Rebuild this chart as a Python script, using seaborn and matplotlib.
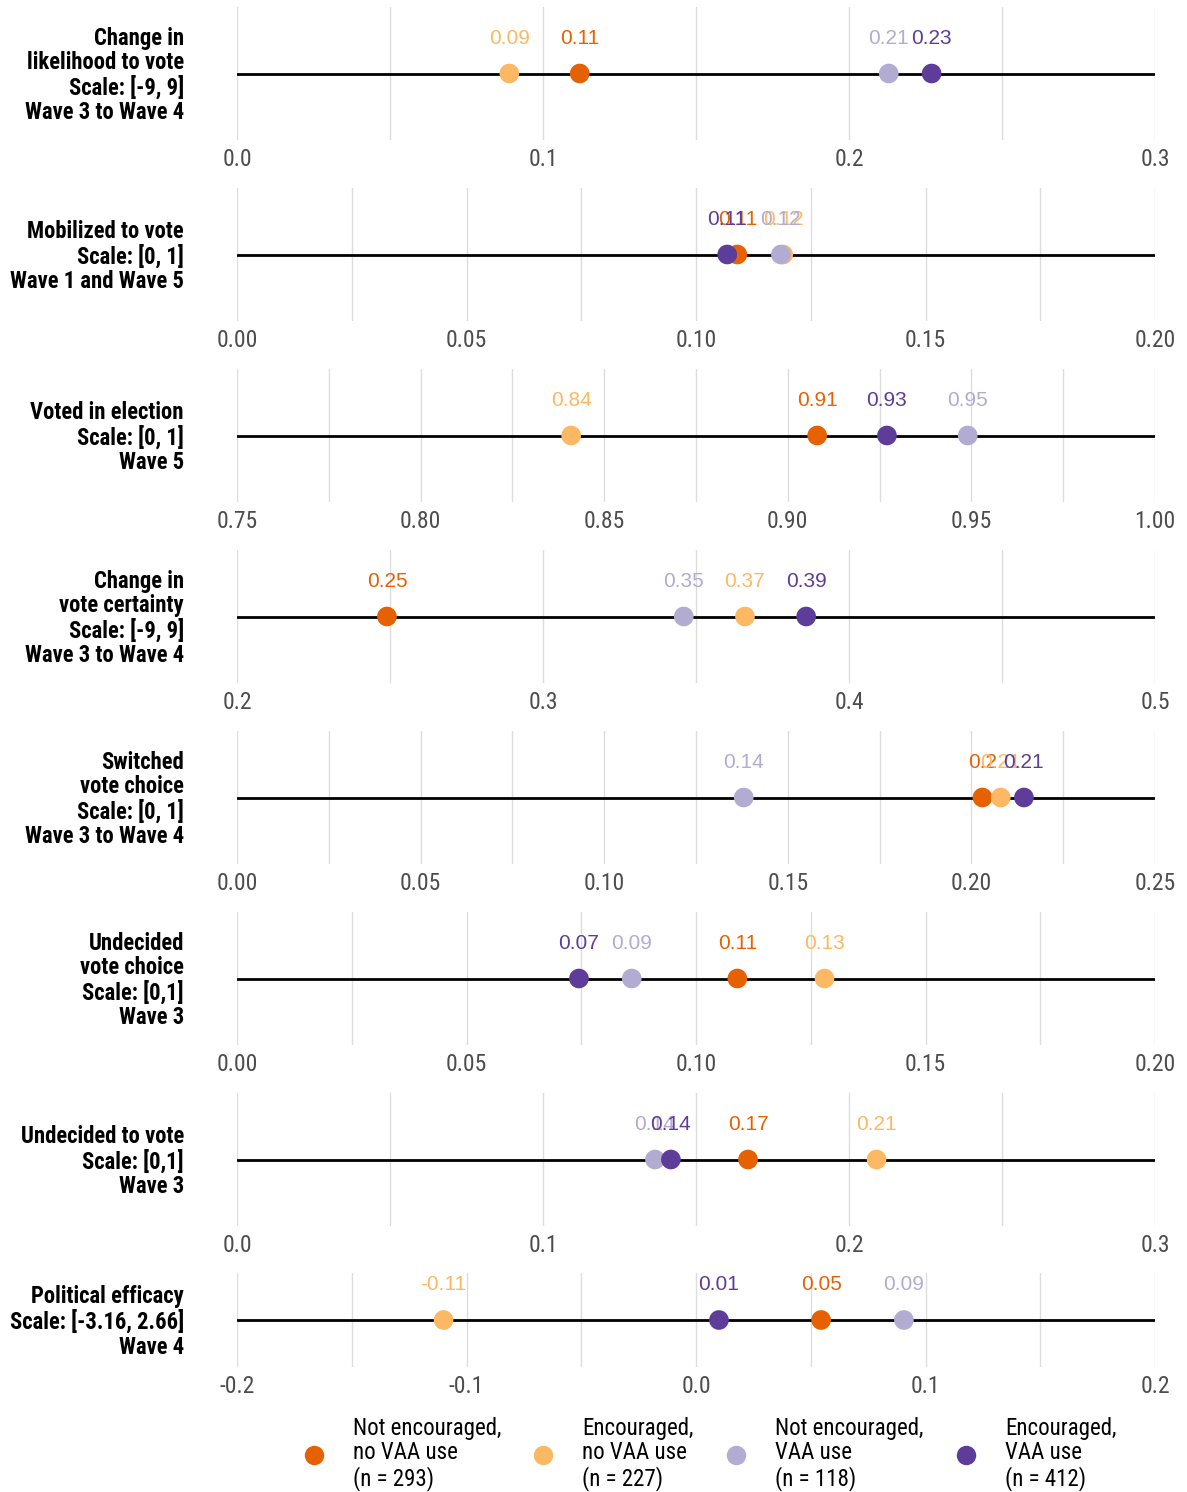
"""
Dot plot of group means for eight outcomes, one panel per outcome
"""

# %% import modules
import numpy as np
import pandas as pd
import matplotlib
matplotlib.use('Agg')
import matplotlib.pyplot as plt
from matplotlib import font_manager as fm
from matplotlib.lines import Line2D
import seaborn as sns

# %% data
groups = ['Not encouraged,\nno VAA use\n(n = 293)',
          'Encouraged,\nno VAA use\n(n = 227)',
          'Not encouraged,\nVAA use\n(n = 118)',
          'Encouraged,\nVAA use\n(n = 412)']
colors = ['#E66101', '#FDB863', '#B2ABD2', '#5E3C99']

outcomes = ['Change in\nlikelihood to vote\nScale: [-9, 9]\nWave 3 to Wave 4',
            'Mobilized to vote\nScale: [0, 1]\nWave 1 and Wave 5',
            'Voted in election\nScale: [0, 1]\nWave 5',
            'Change in\nvote certainty\nScale: [-9, 9]\nWave 3 to Wave 4',
            'Switched\nvote choice\nScale: [0, 1]\nWave 3 to Wave 4',
            'Undecided\nvote choice\nScale: [0,1]\nWave 3',
            'Undecided to vote\nScale: [0,1]\nWave 3',
            'Political efficacy\nScale: [-3.16, 2.66]\nWave 4']

# means per group, order as in `groups`
not_enc_no_vaa = [0.112, 0.109, 0.908, 0.249, 0.203, 0.109, 0.167, 0.0545]
enc_no_vaa = [0.089, 0.119, 0.841, 0.366, 0.208, 0.128, 0.209, -0.11]
not_enc_vaa = [0.213, 0.1185, 0.949, 0.346, 0.138, 0.086, 0.1366, 0.0906]
enc_vaa = [0.227, 0.1068, 0.927, 0.386, 0.2143, 0.0745, 0.1418, 0.01]

# axis limits and tick labels per panel
xlims = [(0, 0.3), (0, 0.2), (0.75, 1.0), (0.2, 0.5),
         (0, 0.25), (0, 0.2), (0, 0.3), (-0.2, 0.2)]
xticks = [[0, 0.1, 0.2, 0.3],
          [0, 0.05, 0.1, 0.15, 0.2],
          [0.75, 0.8, 0.85, 0.9, 0.95, 1.0],
          [0.2, 0.3, 0.4, 0.5],
          [0, 0.05, 0.1, 0.15, 0.2, 0.25],
          [0, 0.05, 0.1, 0.15, 0.2],
          [0, 0.1, 0.2, 0.3],
          [-0.2, -0.1, 0, 0.1, 0.2]]
xticklabels = [['0.0', '0.1', '0.2', '0.3'],
               ['0.00', '0.05', '0.10', '0.15', '0.20'],
               ['0.75', '0.80', '0.85', '0.90', '0.95', '1.00'],
               ['0.2', '0.3', '0.4', '0.5'],
               ['0.00', '0.05', '0.10', '0.15', '0.20', '0.25'],
               ['0.00', '0.05', '0.10', '0.15', '0.20'],
               ['0.0', '0.1', '0.2', '0.3'],
               ['-0.2', '-0.1', '0.0', '0.1', '0.2']]

# %% long data frame
rows = []
for i, out in enumerate(outcomes):
    for g, vals in zip(groups, [not_enc_no_vaa, enc_no_vaa, not_enc_vaa, enc_vaa]):
        rows.append({'outcome': out, 'group': g, 'mean': vals[i], 'y': 0})
df = pd.DataFrame(rows)
palette = dict(zip(groups, colors))

# %% fonts
names = {f.name for f in fm.fontManager.ttflist}


def pick(*cands):
    for c in cands:
        if c in names:
            return c
    return 'DejaVu Sans'


cond_font = pick('Roboto Condensed', 'Roboto', 'DejaVu Sans')
label_font = pick('Liberation Sans', 'Arimo', 'DejaVu Sans')

# %% plot
sns.set_style('white')
plt.rcParams['font.family'] = [cond_font, 'DejaVu Sans']
plt.rcParams['text.color'] = 'black'

W, H = 1187, 1492
fig = plt.figure(figsize=(W / 100, H / 100), dpi=100)
left_px, right_px = 237, 1155
tops = [7 + 181 * i for i in range(7)] + [1273]
heights = [133] * 7 + [94]

for i, out in enumerate(outcomes):
    top, h = tops[i], heights[i]
    ax = fig.add_axes([left_px / W, 1 - (top + h) / H, (right_px - left_px) / W, h / H])
    sub = df[df['outcome'] == out]
    ax.axhline(0, color='black', lw=2, zorder=1)
    sns.scatterplot(data=sub, x='mean', y='y', hue='group', palette=palette,
                    hue_order=groups, s=200, linewidth=0, legend=False,
                    ax=ax, zorder=3)
    for _, r in sub.iterrows():
        ax.annotate(f"{round(r['mean'], 2):g}", (r['mean'], 0),
                    xytext=(0, 25.5), textcoords='offset points',
                    ha='center', va='center', fontsize=15,
                    family=label_font, color=palette[r['group']], zorder=4)
    lo, hi = xlims[i]
    ax.set_xlim(lo, hi)
    ax.set_ylim(-1, 1)
    ax.set_xticks(xticks[i])
    ax.set_xticklabels(xticklabels[i], fontsize=17, color='#4D4D4D')
    minor = [(a + b) / 2 for a, b in zip(xticks[i][:-1], xticks[i][1:])]
    ax.set_xticks(minor, minor=True)
    ax.tick_params(axis='x', which='both', length=0, pad=6)
    ax.set_yticks([])
    ax.grid(axis='x', which='both', color='#DDDDDD', lw=1, zorder=0)
    ax.set_axisbelow(True)
    ax.set_xlabel('')
    ax.set_ylabel('')
    for sp in ax.spines.values():
        sp.set_visible(False)
    # outcome label on the left, centred on the line
    fig.text(184 / W, 1 - (top + h / 2 + 2) / H, out, ha='right', va='center',
             fontsize=16.3, fontweight='bold', linespacing=1.08, color='black')

handles = [Line2D([], [], marker='o', ls='', markersize=14, markeredgewidth=0,
                  color=c) for c in colors]
leg = fig.legend(handles, groups, loc='center', bbox_to_anchor=(708 / W, 1 - 1454 / H),
                 ncol=4, frameon=False, fontsize=16.5, handletextpad=1.1,
                 columnspacing=1.25, handlelength=1.2, labelspacing=0.5)
for t in leg.get_texts():
    t.set_linespacing(1.08)

plt.savefig('out.png', dpi=100)
plt.close()
